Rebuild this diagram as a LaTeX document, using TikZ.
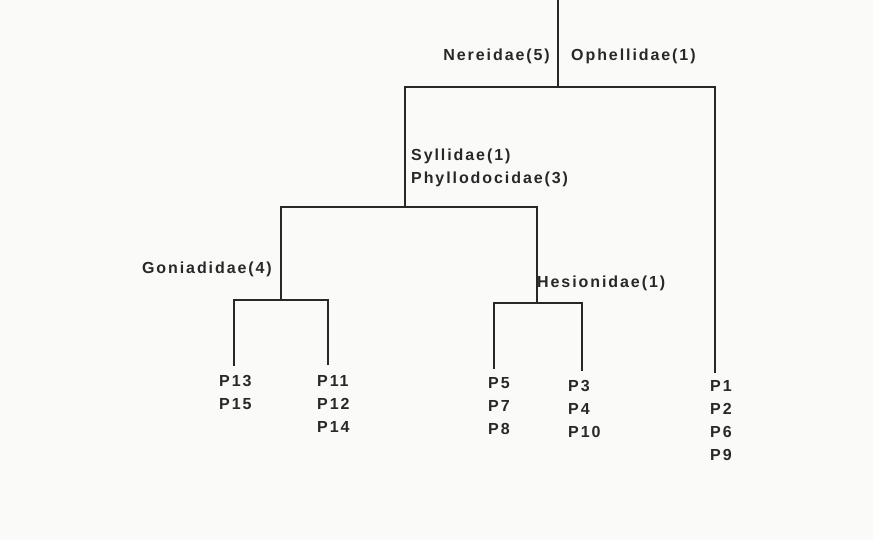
\documentclass[tikz,border=0pt]{standalone}
\usepackage{fontspec}
\setmainfont{Liberation Sans}
\newfontfamily\tagfont[LetterSpace=12]{Liberation Sans}
\definecolor{paper}{RGB}{250,250,249}
\definecolor{ink}{RGB}{40,40,40}

\begin{document}
\begin{tikzpicture}[x=1pt, y=-1pt,
  font=\tagfont\bfseries\fontsize{16}{23}\selectfont,
  lbl/.style={text=ink, inner sep=0pt, align=left},
  leaf/.style={lbl, anchor=north west},
  br/.style={draw=ink, line width=1.5pt, line cap=rect}]
\fill[paper] (0,0) rectangle (873,540);
\useasboundingbox (0,0) rectangle (873,540);
% junctions of the tree
\coordinate (top) at (558,0);
\coordinate (n1) at (558,87);
\coordinate (n2) at (405,207);
\coordinate (n3) at (281,300);
\coordinate (n4) at (537,303);
% lower ends of the branches
\coordinate (e13) at (234,365);
\coordinate (e11) at (328,364);
\coordinate (e5) at (494,368);
\coordinate (e3) at (582,370);
\coordinate (e1) at (715,372);
% family labels
\node[lbl, anchor=east] (nere) at (550,56) {Nereidae(5)};
\node[lbl, anchor=west] (ophe) at (571,56) {Ophellidae(1)};
\node[lbl, anchor=north west] (syll) at (411,149) {Syllidae(1)\\Phyllodocidae(3)};
\node[lbl, anchor=east] (goni) at (272,269) {Goniadidae(4)};
\node[lbl, anchor=west] (hesi) at (537,283) {Hesionidae(1)};
% stations
\node[leaf] (g1) at (219,375) {P13\\P15};
\node[leaf] (g2) at (317,375) {P11\\P12\\P14};
\node[leaf] (g3) at (488,377) {P5\\P7\\P8};
\node[leaf] (g4) at (568,380) {P3\\P4\\P10};
\node[leaf] (g5) at (710,380) {P1\\P2\\P6\\P9};
% branches
\draw[br] (top) -- (n1);
\draw[br] (n2) |- (n1) -| (e1);
\draw[br] (n3) |- (n2) -| (n4);
\draw[br] (e13) |- (n3) -| (e11);
\draw[br] (e5) |- (n4) -| (e3);
\end{tikzpicture}
\end{document}
